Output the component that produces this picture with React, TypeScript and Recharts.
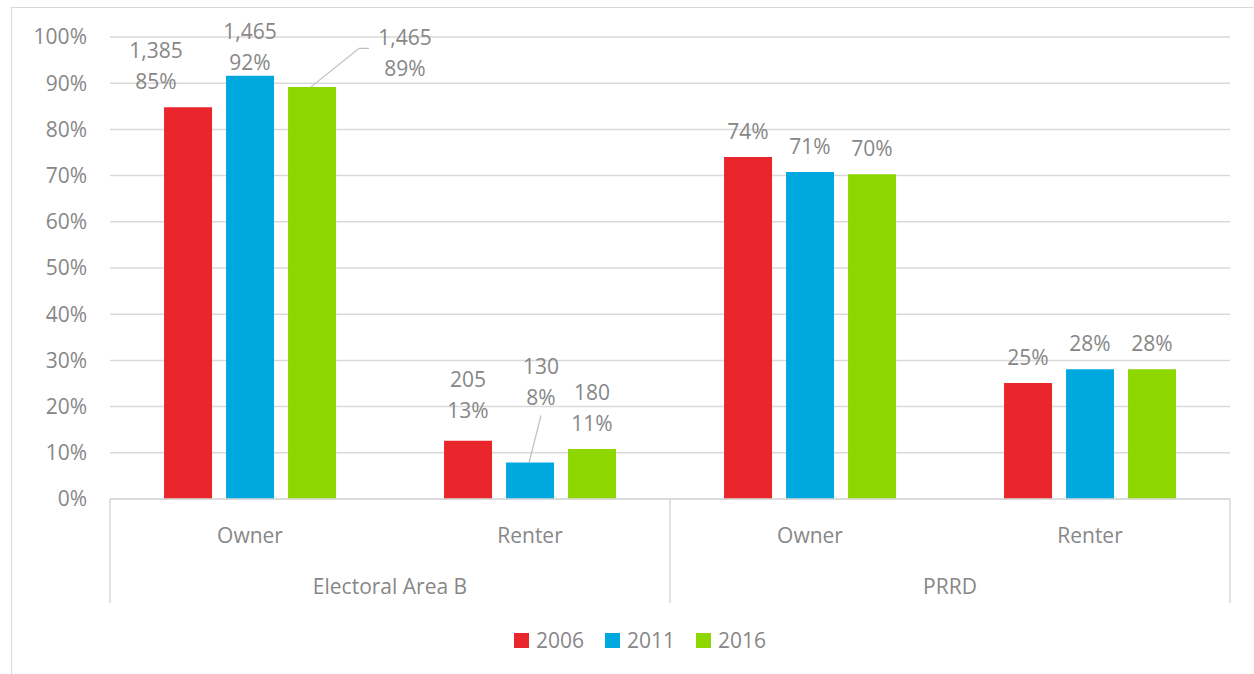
import React from 'react';
import { BarChart, Bar, XAxis, YAxis, CartesianGrid, Legend, LabelList } from 'recharts';

const categories = ['Owner', 'Renter', 'Owner', 'Renter'];
const groups = ['Electoral Area B', 'Electoral Area B', 'PRRD', 'PRRD'];
const years = ['2006', '2011', '2016'];
const share2006 = [0.848, 0.126, 0.74, 0.251];
const share2011 = [0.916, 0.079, 0.708, 0.281];
const share2016 = [0.892, 0.108, 0.703, 0.281];
const count2006 = [1385, 205, null, null];
const count2011 = [1465, 130, null, null];
const count2016 = [1465, 180, null, null];
const yTicks = [0, 0.1, 0.2, 0.3, 0.4, 0.5, 0.6, 0.7, 0.8, 0.9, 1];

const COLORS: Record<string, string> = { '2006': '#E8262B', '2011': '#00A8E0', '2016': '#8DD600' };
const FONT = "'Open Sans', 'Noto Sans', sans-serif";
const TEXT = '#878787';
const LINE = '#D9D9D9';

const shares: Record<string, number[]> = { '2006': share2006, '2011': share2011, '2016': share2016 };
const counts: Record<string, (number | null)[]> = { '2006': count2006, '2011': count2011, '2016': count2016 };

const data = categories.map((c, i) => {
  const row: any = { category: c, group: groups[i] };
  years.forEach((y) => {
    row['v' + y] = shares[y][i];
    row['c' + y] = counts[y][i];
  });
  return row;
});

const nudges: Record<string, { dx?: number; dy?: number; leader?: 'elbow' | 'straight' }> = {
  '2006-0': { dx: -32 },
  '2011-0': { dy: 12 },
  '2016-0': { dx: 93, dy: 7, leader: 'elbow' },
  '2006-1': { dy: -5 },
  '2011-1': { dx: 11, dy: -40, leader: 'straight' },
};

const fmtPct = (v: number) => `${Math.round(v * 100)}%`;
const fmtCount = (v: number) => v.toLocaleString('en-US');

const makeLabel = (year: string) => (props: any) => {
  const { x, y, width, index } = props;
  const i = index;
  const value = shares[year][i];
  const count = counts[year][i];
  const nd = nudges[`${year}-${i}`] || {};
  const cx = x + width / 2;
  const lx = cx + (nd.dx || 0);
  const pctY = y - 26 + (nd.dy || 0);
  const cntY = pctY - 31;
  const textProps = {
    textAnchor: 'middle' as const,
    dominantBaseline: 'central' as const,
    fill: TEXT,
    fontSize: 21,
    fontFamily: FONT,
  };
  let leader = null;
  if (nd.leader === 'elbow') {
    const my = (pctY + cntY) / 2 - 4;
    leader = (
      <polyline
        points={`${cx - 1},${y} ${lx - 46},${my} ${lx - 36},${my}`}
        fill="none"
        stroke="#BFBFBF"
        strokeWidth={1.2}
      />
    );
  } else if (nd.leader === 'straight') {
    leader = <line x1={cx - 1} y1={y} x2={lx} y2={pctY + 19} stroke="#BFBFBF" strokeWidth={1.2} />;
  }
  return (
    <g>
      {leader}
      {count != null && (
        <text x={lx} y={cntY} {...textProps}>
          {fmtCount(count)}
        </text>
      )}
      <text x={lx} y={pctY} {...textProps}>
        {fmtPct(value)}
      </text>
    </g>
  );
};

const CategoryTick = (props: any) => {
  const { x, y, payload } = props;
  const i = payload.index;
  const half = payload.offset || 140;
  const els: any[] = [];
  els.push(
    <text key="c" x={x} y={y + 36} textAnchor="middle" dominantBaseline="central" fill={TEXT} fontSize={21} fontFamily={FONT}>
      {categories[i]}
    </text>
  );
  const isGroupStart = i === 0 || groups[i] !== groups[i - 1];
  const isLast = i === categories.length - 1;
  if (isGroupStart) {
    els.push(<line key="s" x1={x - half} y1={y} x2={x - half} y2={y + 104} stroke={LINE} strokeWidth={1.5} />);
    els.push(
      <text key="g" x={x + half} y={y + 87} textAnchor="middle" dominantBaseline="central" fill={TEXT} fontSize={21} fontFamily={FONT}>
        {groups[i]}
      </text>
    );
  }
  if (isLast) {
    els.push(<line key="e" x1={x + half} y1={y} x2={x + half} y2={y + 104} stroke={LINE} strokeWidth={1.5} />);
  }
  return <g>{els}</g>;
};

const renderLegend = () => (
  <div
    style={{
      display: 'flex',
      justifyContent: 'center',
      alignItems: 'center',
      fontFamily: FONT,
      fontSize: 21,
      color: TEXT,
      paddingLeft: 26,
    }}
  >
    {years.map((y, k) => (
      <div key={y} style={{ display: 'flex', alignItems: 'center', marginLeft: k === 0 ? 0 : 21 }}>
        <div style={{ width: 15, height: 15, background: COLORS[y], marginRight: 7 }} />
        <span style={{ lineHeight: '28px' }}>{y}</span>
      </div>
    ))}
  </div>
);

export default function App() {
  return (
    <div
      style={{
        position: 'absolute',
        left: 0,
        top: 0,
        width: 1254,
        height: 674,
        overflow: 'hidden',
        background: '#fff',
        fontFamily: FONT,
      }}
    >
      <div
        style={{
          position: 'absolute',
          left: 11,
          top: 7,
          width: 1300,
          height: 720,
          border: `1px solid ${LINE}`,
          boxSizing: 'border-box',
        }}
      />
      <div style={{ position: 'absolute', left: 0, top: 0 }}>
        <BarChart
          width={1254}
          height={674}
          data={data}
          margin={{ top: 37, right: 24, left: 20, bottom: 55 }}
          barGap={14}
          barCategoryGap="19.3%"
        >
          <CartesianGrid vertical={false} stroke={LINE} strokeWidth={1.5} />
          <XAxis
            dataKey="category"
            height={120}
            interval={0}
            tickLine={false}
            tickSize={0}
            tickMargin={0}
            axisLine={{ stroke: LINE, strokeWidth: 1.5 }}
            tick={<CategoryTick />}
          />
          <YAxis
            width={90}
            domain={[0, 1]}
            ticks={yTicks}
            tickFormatter={fmtPct}
            axisLine={false}
            tickLine={false}
            tickSize={0}
            tickMargin={23}
            tick={{ fill: TEXT, fontSize: 21, fontFamily: FONT }}
          />
          <Legend
            verticalAlign="middle"
            align="center"
            layout="horizontal"
            wrapperStyle={{ top: 626, left: 0, width: 1254, height: 30 }}
            content={renderLegend}
          />
          {years.map((y) => (
            <Bar key={y} dataKey={'v' + y} name={y} fill={COLORS[y]} isAnimationActive={false}>
              <LabelList dataKey={'v' + y} content={makeLabel(y)} />
            </Bar>
          ))}
        </BarChart>
      </div>
    </div>
  );
}
